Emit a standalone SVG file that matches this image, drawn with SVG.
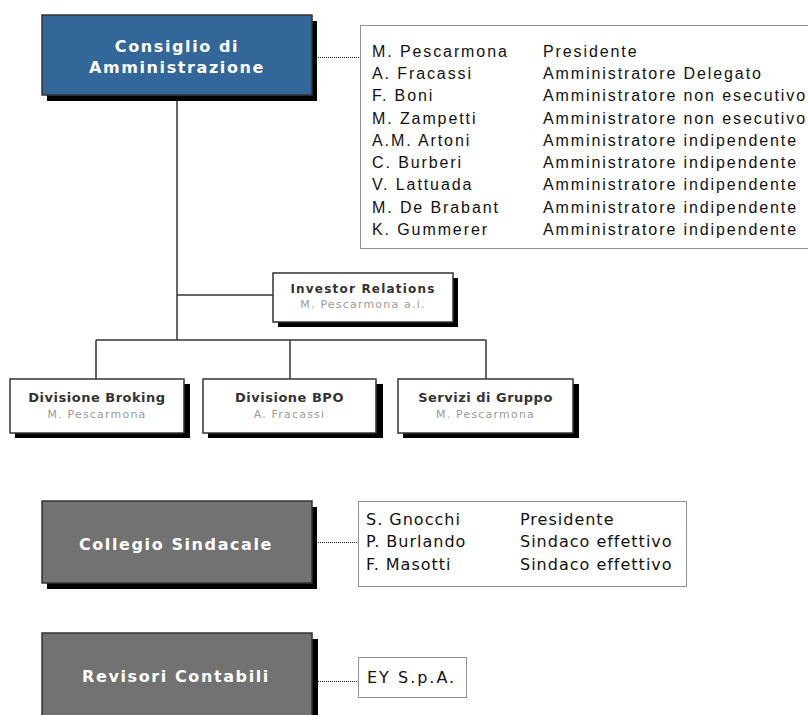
<svg xmlns="http://www.w3.org/2000/svg" width="808" height="715" viewBox="0 0 808 715">
<defs>
<style>
.shadow{fill:#000}
.box{stroke:#333;stroke-width:1.5}
.white{fill:#fff}
.blue{fill:#336699}
.grey{fill:#727272}
.conn{stroke:#333;stroke-width:1.5;fill:none}
.dot{stroke:#222;stroke-width:1;stroke-dasharray:1 1;fill:none}
.tmain{font-family:"DejaVu Sans",Verdana,sans-serif;font-weight:bold;font-size:16px;fill:#fff;text-anchor:middle;letter-spacing:1.6px}
.ttitle{font-family:"DejaVu Sans",Verdana,sans-serif;font-weight:bold;font-size:13px;fill:#333;text-anchor:middle;letter-spacing:0.5px}
.tsub{font-family:"DejaVu Sans",Verdana,sans-serif;font-size:11px;fill:#9a9a9a;text-anchor:middle;letter-spacing:1.2px}
.tlist{font-family:"Liberation Sans",Arial,sans-serif;font-size:16px;fill:#111;letter-spacing:1.9px}
.tlist2{font-family:"DejaVu Sans",Verdana,sans-serif;font-size:16px;fill:#111;letter-spacing:1px}
</style>
</defs>
<g id="connectors">
<line class="conn" x1="177" y1="95" x2="177" y2="340"/>
<line class="conn" x1="177" y1="295" x2="273" y2="295"/>
<line class="conn" x1="96" y1="340" x2="486" y2="340"/>
<line class="conn" x1="96" y1="340" x2="96" y2="379"/>
<line class="conn" x1="290" y1="340" x2="290" y2="379"/>
<line class="conn" x1="486" y1="340" x2="486" y2="379"/>
<line class="dot" x1="318" y1="57.5" x2="360" y2="57.5"/>
<line class="dot" x1="318" y1="542.5" x2="358" y2="542.5"/>
<line class="dot" x1="318" y1="681.5" x2="358" y2="681.5"/>
</g>
<g id="consiglio">
<rect class="shadow" x="47" y="21" width="270" height="80"/>
<rect class="box blue" x="42" y="15" width="270" height="80"/>
<text class="tmain" x="177" y="52">Consiglio di</text>
<text class="tmain" x="177" y="73">Amministrazione</text>
</g>
<g id="cda-members">
<rect class="dot" x="360.5" y="25.5" width="470" height="223"/>
<g class="tlist">
<text x="372" y="57">M. Pescarmona</text><text x="543" y="57">Presidente</text>
<text x="372" y="79">A. Fracassi</text><text x="543" y="79">Amministratore Delegato</text>
<text x="372" y="101">F. Boni</text><text x="543" y="101">Amministratore non esecutivo</text>
<text x="372" y="124">M. Zampetti</text><text x="543" y="124">Amministratore non esecutivo</text>
<text x="372" y="146">A.M. Artoni</text><text x="543" y="146">Amministratore indipendente</text>
<text x="372" y="168">C. Burberi</text><text x="543" y="168">Amministratore indipendente</text>
<text x="372" y="190">V. Lattuada</text><text x="543" y="190">Amministratore indipendente</text>
<text x="372" y="213">M. De Brabant</text><text x="543" y="213">Amministratore indipendente</text>
<text x="372" y="235">K. Gummerer</text><text x="543" y="235">Amministratore indipendente</text>
</g>
</g>
<g id="investor-relations">
<rect class="shadow" x="278" y="278" width="180" height="49"/>
<rect class="box white" x="273" y="273" width="180" height="49"/>
<text class="ttitle" x="363" y="293" style="font-size:12px;letter-spacing:1.2px">Investor Relations</text>
<text class="tsub" x="363" y="308">M. Pescarmona  a.i.</text>
</g>
<g id="divisione-broking">
<rect class="shadow" x="15" y="384" width="175" height="54"/>
<rect class="box white" x="10" y="379" width="174" height="54"/>
<text class="ttitle" x="97" y="402">Divisione Broking</text>
<text class="tsub" x="97" y="418">M. Pescarmona</text>
</g>
<g id="divisione-bpo">
<rect class="shadow" x="208" y="384" width="175" height="54"/>
<rect class="box white" x="203" y="379" width="173" height="54"/>
<text class="ttitle" x="289.5" y="402">Divisione BPO</text>
<text class="tsub" x="289.5" y="418">A. Fracassi</text>
</g>
<g id="servizi-di-gruppo">
<rect class="shadow" x="403" y="384" width="176" height="54"/>
<rect class="box white" x="398" y="379" width="175" height="54"/>
<text class="ttitle" x="485.5" y="402">Servizi di Gruppo</text>
<text class="tsub" x="485.5" y="418">M. Pescarmona</text>
</g>
<g id="collegio-sindacale">
<rect class="shadow" x="47" y="507" width="270" height="82"/>
<rect class="box grey" x="42" y="501" width="270" height="82"/>
<text class="tmain" x="176" y="550">Collegio Sindacale</text>
</g>
<g id="sindaci">
<rect class="dot" x="358.5" y="501.5" width="328" height="85"/>
<g class="tlist2">
<text x="366" y="525">S. Gnocchi</text><text x="520" y="525">Presidente</text>
<text x="366" y="547">P. Burlando</text><text x="520" y="547">Sindaco effettivo</text>
<text x="366" y="570">F. Masotti</text><text x="520" y="570">Sindaco effettivo</text>
</g>
</g>
<g id="revisori-contabili">
<rect class="shadow" x="47" y="639" width="271" height="90"/>
<rect class="box grey" x="42" y="633" width="270" height="90"/>
<text class="tmain" x="176" y="682">Revisori Contabili</text>
</g>
<g id="ey">
<rect class="dot" x="358.5" y="657.5" width="108" height="40"/>
<text class="tlist2" x="367" y="683" style="letter-spacing:2px">EY S.p.A.</text>
</g>
</svg>
